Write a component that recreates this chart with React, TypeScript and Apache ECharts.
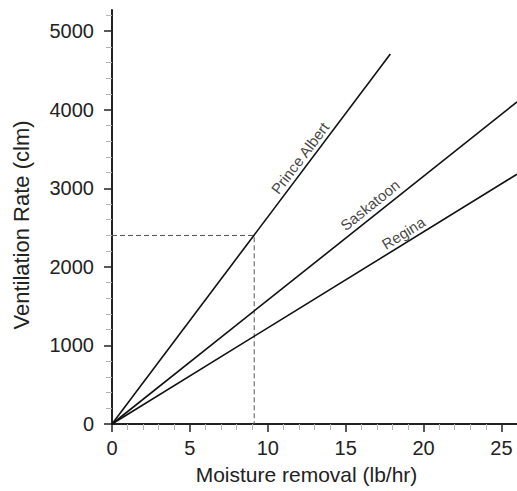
import React, { useEffect, useRef } from "react";
import * as echarts from "echarts";

// Data
const lineNames = ["Prince Albert", "Saskatoon", "Regina"];
const lineEndX = [17.87, 26, 26];
const lineEndY = [4710, 4100, 3180];
const labelX = [12.07, 16.56, 18.71];
const labelY = [3386, 2788, 2431];
const labelAngle = [53, 38.6, 31.7];
const readX = 9.13;
const readY = 2400;

const xMajor = [0, 5, 10, 15, 20, 25];
const xMinor = [1, 2, 3, 4, 6, 7, 8, 9, 11, 12, 13, 14, 16, 17, 18, 19, 21, 22, 23, 24, 26];
const yMajor = [0, 1000, 2000, 3000, 4000, 5000];
const yMinor = [
  200, 400, 600, 800, 1200, 1400, 1600, 1800, 2200, 2400, 2600, 2800, 3200, 3400, 3600, 3800,
  4200, 4400, 4600, 4800, 5200,
];

const X_MAX = 26;
const Y_MAX = 5270;
const FONT = "'Liberation Sans', Arial, sans-serif";
const INK = "#222";

export default function App() {
  const ref = useRef<HTMLDivElement>(null);
  useEffect(() => {
    if (!ref.current) return;
    const chart = echarts.init(ref.current, null, { renderer: "svg" });
    const baseAxis = { type: "value" as const, min: 0, splitLine: { show: false } };
    const plain = (v: number) => String(v);
    const option: any = {
      animation: false,
      backgroundColor: "#fff",
      textStyle: { fontFamily: FONT },
      grid: { left: 112, right: 0, top: 10, bottom: 67, containLabel: false },
      xAxis: [
        {
          ...baseAxis,
          max: X_MAX,
          interval: 5,
          position: "bottom",
          name: "Moisture removal (lb/hr)",
          nameLocation: "middle",
          nameGap: 40,
          nameTextStyle: { fontSize: 21, color: INK, fontFamily: FONT, padding: [0, 16, 0, 0] },
          axisLine: { show: true, onZero: false, lineStyle: { color: INK, width: 2 } },
          axisTick: { show: true, customValues: xMajor, length: 8, lineStyle: { color: INK, width: 1.5 } },
          axisLabel: { customValues: xMajor, formatter: plain, fontSize: 20, color: INK, margin: 14, fontFamily: FONT },
        },
        {
          ...baseAxis,
          max: X_MAX,
          interval: 5,
          position: "bottom",
          axisLine: { show: false },
          axisTick: { show: true, customValues: xMinor, length: 6, lineStyle: { color: "#b5b5b5", width: 1 } },
          axisLabel: { show: false },
        },
      ],
      yAxis: [
        {
          ...baseAxis,
          max: Y_MAX,
          interval: 1000,
          position: "left",
          name: "Ventilation Rate (clm)",
          nameLocation: "middle",
          nameGap: 80,
          nameTextStyle: { fontSize: 22, color: INK, fontFamily: FONT, padding: [0, 16, 0, 0] },
          axisLine: { show: true, onZero: false, lineStyle: { color: INK, width: 2 } },
          axisTick: { show: true, customValues: yMajor, length: 8, lineStyle: { color: INK, width: 1.5 } },
          axisLabel: { customValues: yMajor, formatter: plain, fontSize: 20, color: INK, margin: 18, fontFamily: FONT },
        },
        {
          ...baseAxis,
          max: Y_MAX,
          interval: 1000,
          position: "left",
          axisLine: { show: false },
          axisTick: { show: true, customValues: yMinor, length: 6, lineStyle: { color: "#b5b5b5", width: 1 } },
          axisLabel: { show: false },
        },
      ],
      series: [
        {
          type: "line",
          name: "reading",
          data: [
            [0, readY],
            [readX, readY],
            [readX, 0],
          ],
          symbol: "none",
          lineStyle: { color: "#555", width: 1, type: [5, 3] },
          z: 1,
          silent: true,
        },
        ...lineNames.map((n, i) => ({
          type: "line",
          name: n,
          data: [
            [0, 0],
            [lineEndX[i], lineEndY[i]],
          ],
          symbol: "none",
          lineStyle: { color: "#111", width: 1.6 },
          z: 2,
          silent: true,
        })),
        {
          type: "scatter",
          name: "labels",
          symbolSize: 0,
          silent: true,
          z: 3,
          data: lineNames.map((n, i) => ({
            value: [labelX[i], labelY[i]],
            name: n,
            label: {
              show: true,
              formatter: n,
              position: "inside",
              rotate: labelAngle[i],
              fontSize: 15,
              color: "#111",
              fontFamily: FONT,
              align: "center",
              verticalAlign: "middle",
            },
          })),
        },
      ],
    };
    chart.setOption(option);
    return () => chart.dispose();
  }, []);
  return (
    <div
      ref={ref}
      style={{ position: "fixed", left: 0, top: 0, width: 517, height: 491, background: "#fff" }}
    />
  );
}
